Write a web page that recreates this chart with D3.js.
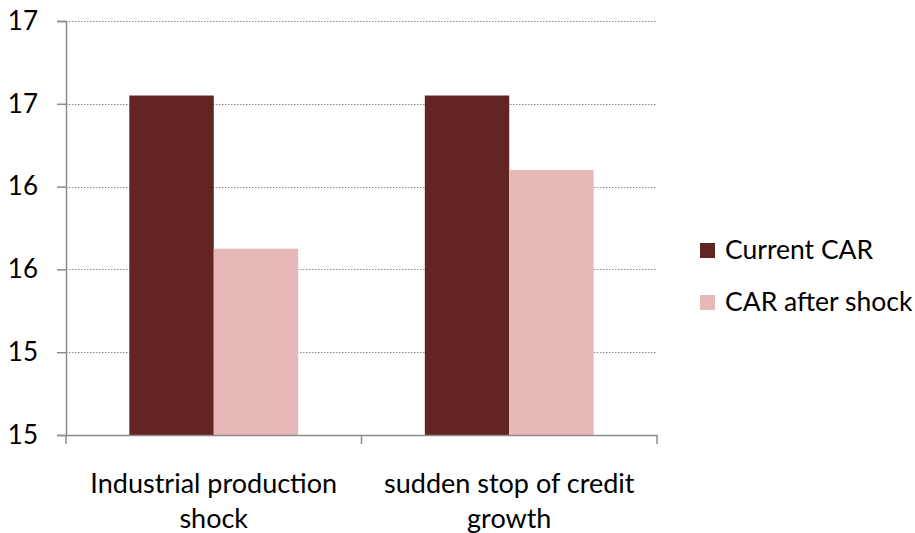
<!DOCTYPE html>
<html>
<head>
<meta charset="utf-8">
<script src="https://cdn.jsdelivr.net/npm/d3@7"></script>
<style>
  html, body { margin: 0; padding: 0; background: #ffffff; }
  svg { display: block; font-family: Lato, "Open Sans", sans-serif; }
</style>
</head>
<body>
<svg id="chart" width="915" height="533"></svg>
<script>
// Scenario categories (each label split over two lines)
const categories = ["Industrial production shock", "sudden stop of credit growth"];
const categoryLines = [["Industrial production", "shock"], ["sudden stop of credit", "growth"]];
// Series
const seriesNames = ["Current CAR", "CAR after shock"];
const currentCAR = [16.64, 16.64];
const afterShockCAR = [15.90, 16.28];
// Axis ticks (labels shown rounded to whole numbers)
const yTicks = [15, 15.4, 15.8, 16.2, 16.6, 17];
const colors = ["#632523", "#e6b9b8"];

const svg = d3.select("#chart");
const plot = { left: 66, right: 657, top: 21, bottom: 435 };

const x0 = d3.scaleBand().domain(categories).range([plot.left, plot.right]).paddingInner(0).paddingOuter(0);
const x1 = d3.scaleBand().domain(seriesNames).range([0, x0.bandwidth()]).paddingOuter(0.75).paddingInner(0);
const y = d3.scaleLinear().domain([15, 17]).range([plot.bottom, plot.top]);

// dotted gridlines
svg.append("g")
  .selectAll("line")
  .data(yTicks.slice(1))
  .join("line")
  .attr("x1", plot.left).attr("x2", plot.right)
  .attr("y1", d => Math.round(y(d)) + 0.5).attr("y2", d => Math.round(y(d)) + 0.5)
  .attr("stroke", "#8c8c8c").attr("stroke-width", 1.2)
  .attr("stroke-dasharray", "1.5,1.5");

// bars
const rows = categories.map((c, i) => ({ cat: c, vals: [currentCAR[i], afterShockCAR[i]] }));
svg.append("g")
  .selectAll("g")
  .data(rows)
  .join("g")
  .attr("transform", d => `translate(${x0(d.cat)},0)`)
  .selectAll("rect")
  .data(d => d.vals.map((v, j) => ({ name: seriesNames[j], v, j })))
  .join("rect")
  .attr("x", d => x1(d.name))
  .attr("width", x1.bandwidth())
  .attr("y", d => y(d.v))
  .attr("height", d => y(15) - y(d.v))
  .attr("fill", d => colors[d.j]);

// y axis
const yAxis = svg.append("g")
  .attr("transform", `translate(${plot.left},0)`)
  .call(d3.axisLeft(y).tickValues(yTicks).tickFormat(d3.format(".0f")).tickSize(9).tickPadding(19));
yAxis.select(".domain").attr("stroke", "#8c8c8c").attr("stroke-width", 1.5);
yAxis.selectAll(".tick line").attr("stroke", "#8c8c8c").attr("stroke-width", 1.5);
yAxis.selectAll(".tick text").attr("font-size", 26).attr("fill", "#000").attr("font-family", "Lato");

// x axis
const xAxis = svg.append("g")
  .attr("transform", `translate(0,${plot.bottom})`)
  .call(d3.axisBottom(x0).tickValues([]).tickSizeOuter(0));
xAxis.select(".domain").attr("stroke", "#8c8c8c").attr("stroke-width", 1.5);
const catEdges = [plot.left, x0(categories[1]), plot.right];
xAxis.selectAll(".edge").data(catEdges).join("line")
  .attr("class", "edge")
  .attr("x1", d => d).attr("x2", d => d)
  .attr("y1", 0).attr("y2", 9)
  .attr("stroke", "#8c8c8c").attr("stroke-width", 1.5);

// category labels
svg.append("g")
  .selectAll("text")
  .data(categories)
  .join("text")
  .attr("x", d => x0(d) + x0.bandwidth() / 2)
  .attr("y", 493)
  .attr("text-anchor", "middle")
  .attr("font-size", 27)
  .attr("fill", "#000")
  .each(function (d, i) {
    d3.select(this).selectAll("tspan")
      .data(categoryLines[i])
      .join("tspan")
      .attr("x", x0(d) + x0.bandwidth() / 2)
      .attr("dy", (t, k) => k === 0 ? 0 : 35)
      .text(t => t);
  });

// legend
const legend = svg.append("g").attr("transform", "translate(700,243)");
const items = legend.selectAll("g").data(seriesNames).join("g")
  .attr("transform", (d, i) => `translate(0,${i * 52})`);
items.append("rect").attr("width", 15).attr("height", 15).attr("fill", (d, i) => colors[i]);
items.append("text").attr("x", 25).attr("y", 16).attr("font-size", 26.5).attr("fill", "#000").text(d => d);
</script>
</body>
</html>
